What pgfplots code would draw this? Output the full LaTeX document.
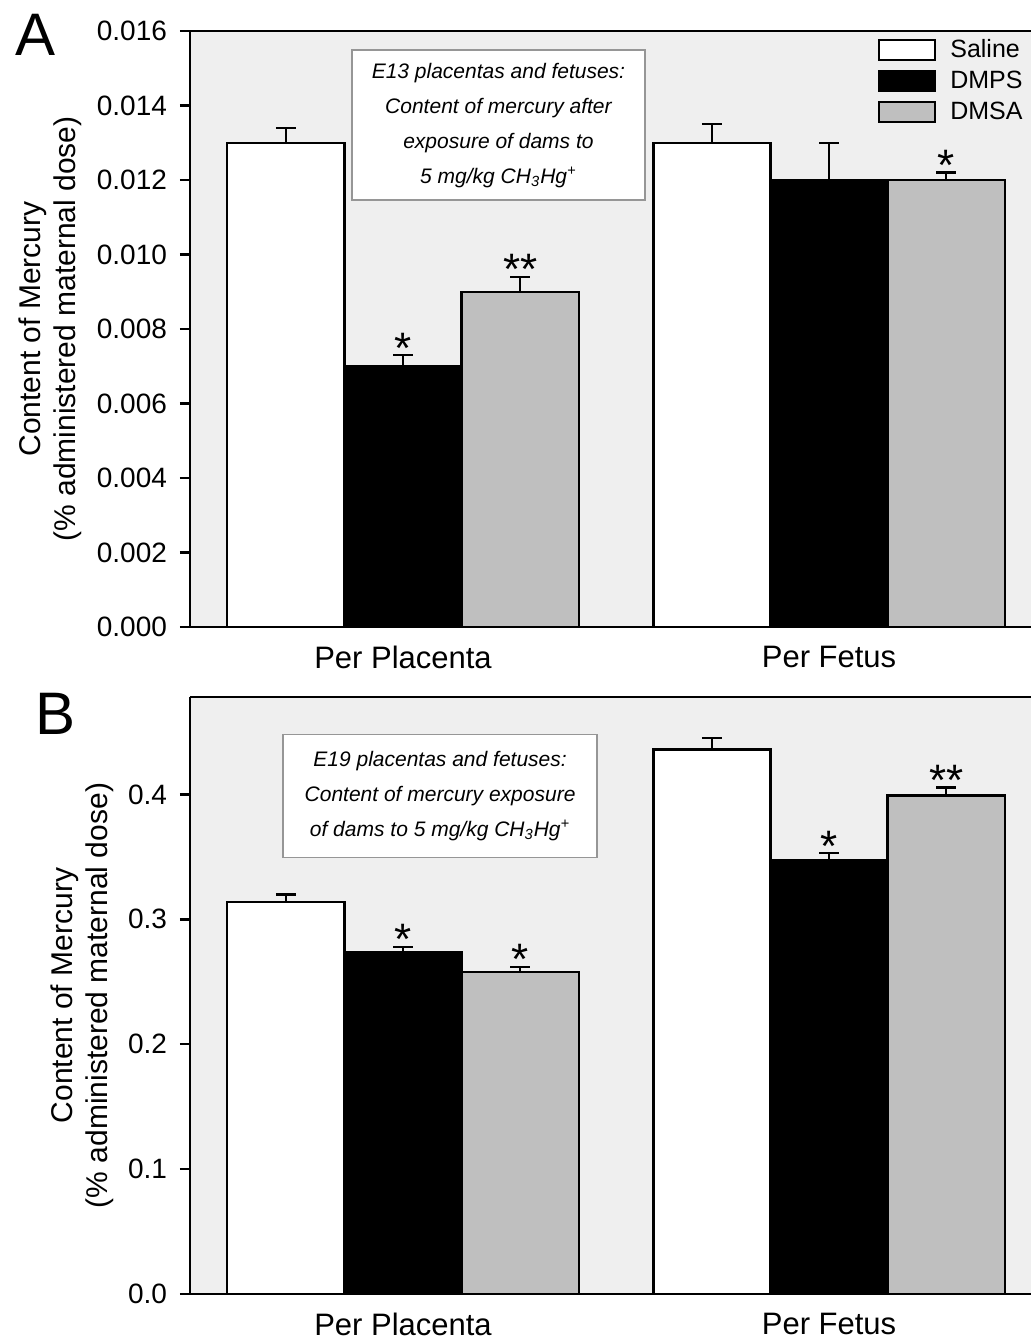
\documentclass[border=0pt]{standalone}
\usepackage{fontspec}
\setmainfont{Liberation Sans}
\usepackage{pgfplots}
\pgfplotsset{compat=1.18}

\definecolor{panelbg}{RGB}{239,239,239}
\definecolor{bargray}{RGB}{191,191,191}
\definecolor{boxgray}{RGB}{150,150,150}

\pgfplotsset{
  panel/.style={
    scale only axis, width=420.5pt,
    xmin=-0.5, xmax=1.474,
    ybar=0pt, bar width=0.275,
    axis x line=box, axis y line=left,
    axis line style={-, line width=1.3pt},
    axis background/.style={fill=panelbg},
    xtick={0,1}, xticklabels={Per Placenta, Per Fetus},
    x tick style={draw=none},
    xticklabel style={font=\fontsize{15.5}{15.5}\selectfont, yshift=-1.2pt, text depth=0pt},
    tick align=outside, major tick length=5pt,
    y tick style={line width=1.2pt, black},
    yticklabel style={font=\fontsize{14}{14}\selectfont, xshift=-3pt},
    /pgf/number format/assume math mode=true,
    scaled y ticks=false,
    ylabel style={align=center, font=\fontsize{15}{17.5}\selectfont},
    ylabel shift=0.5pt,
    ylabel={Content of Mercury\\(\% administered maternal dose)},
    clip=false,
  },
  errs/.style={
    error bars/y dir=plus, error bars/y explicit,
    error bars/error mark=-,
    error bars/error bar style={line width=1.2pt, black},
    error bars/error mark options={rotate=90, line width=1.2pt, mark size=5pt, black},
  },
  sal/.style={fill=white, draw=black, line width=1.2pt, errs},
  dmps/.style={fill=black, draw=black, line width=1.2pt, errs},
  dmsa/.style={fill=bargray, draw=black, line width=1.2pt, errs},
  boxlegend/.style={legend image code/.code={
    \draw[##1, line width=1.2pt] (0pt,-5pt) rectangle (28pt,5pt);}},
}
\tikzset{
  star/.style={font=\fontsize{22}{22}\selectfont, anchor=base, inner sep=0pt, yshift=-4pt},
  note/.style={draw=boxgray, fill=white, line width=0.8pt, align=center,
    font=\fontsize{10.5}{17.5}\selectfont\itshape, inner sep=2pt},
}

\begin{document}
\begin{tikzpicture}
\path[use as bounding box] (-95pt,-23.5pt) rectangle (420.5pt,647pt);

% panel A
\begin{axis}[panel, name=A, at={(0pt,333.5pt)}, anchor=south west,
    height=298pt, ymin=0, ymax=0.016,
    ytick={0,0.002,...,0.016},
    yticklabel style={/pgf/number format/.cd, fixed, fixed zerofill, precision=3},
    legend style={at={(1,1)}, anchor=north east, xshift=1pt, yshift=0pt,
      draw=none, fill=none, row sep=1.2pt, legend cell align=left,
      font=\fontsize{12.5}{12.5}\selectfont,
      /tikz/every odd column/.append style={column sep=5pt}},
]
\addplot[sal, boxlegend] coordinates {(0,0.013) +- (0,0.0004) (1,0.013) +- (0,0.0005)};
\addlegendentry{Saline}
\addplot[dmps, boxlegend] coordinates {(0,0.007) +- (0,0.0003) (1,0.012) +- (0,0.001)};
\addlegendentry{DMPS}
\addplot[dmsa, boxlegend] coordinates {(0,0.009) +- (0,0.0004) (1,0.012) +- (0,0.0002)};
\addlegendentry{DMSA}

\node[star] at (axis cs:0,0.0073) {*};
\node[star] at (axis cs:0.275,0.0094) {**};
\node[star] at (axis cs:1.275,0.0122) {*};

\node[note, minimum width=146.5pt, minimum height=75pt] at (axis cs:0.224,0.01347)
  {E13 placentas and fetuses:\\Content of mercury after\\exposure of dams to\\5 mg/kg CH\textsubscript{3}Hg\textsuperscript{+}};
\end{axis}

% panel B
\begin{axis}[panel, name=B, at={(0pt,0pt)}, anchor=south west,
    height=298.5pt, ymin=0, ymax=0.478,
    ytick={0,0.1,...,0.4},
    yticklabel style={/pgf/number format/.cd, fixed, fixed zerofill, precision=1},
]
\addplot[sal] coordinates {(0,0.314) +- (0,0.006) (1,0.436) +- (0,0.009)};
\addplot[dmps] coordinates {(0,0.274) +- (0,0.004) (1,0.347) +- (0,0.006)};
\addplot[dmsa] coordinates {(0,0.258) +- (0,0.004) (1,0.399) +- (0,0.0065)};

\node[star] at (axis cs:0,0.278) {*};
\node[star] at (axis cs:0.275,0.262) {*};
\node[star] at (axis cs:1,0.353) {*};
\node[star] at (axis cs:1.275,0.4055) {**};

\node[note, minimum width=157pt, minimum height=61.5pt] at (axis cs:0.087,0.3988)
  {E19 placentas and fetuses:\\Content of mercury exposure\\of dams to 5 mg/kg CH\textsubscript{3}Hg\textsuperscript{+}};
\end{axis}

\node[font=\fontsize{30}{30}\selectfont] at ([xshift=-77pt,yshift=-2pt]A.north west) {A};
\node[font=\fontsize{30}{30}\selectfont] at ([xshift=-67pt,yshift=-8.5pt]B.north west) {B};
\end{tikzpicture}
\end{document}
